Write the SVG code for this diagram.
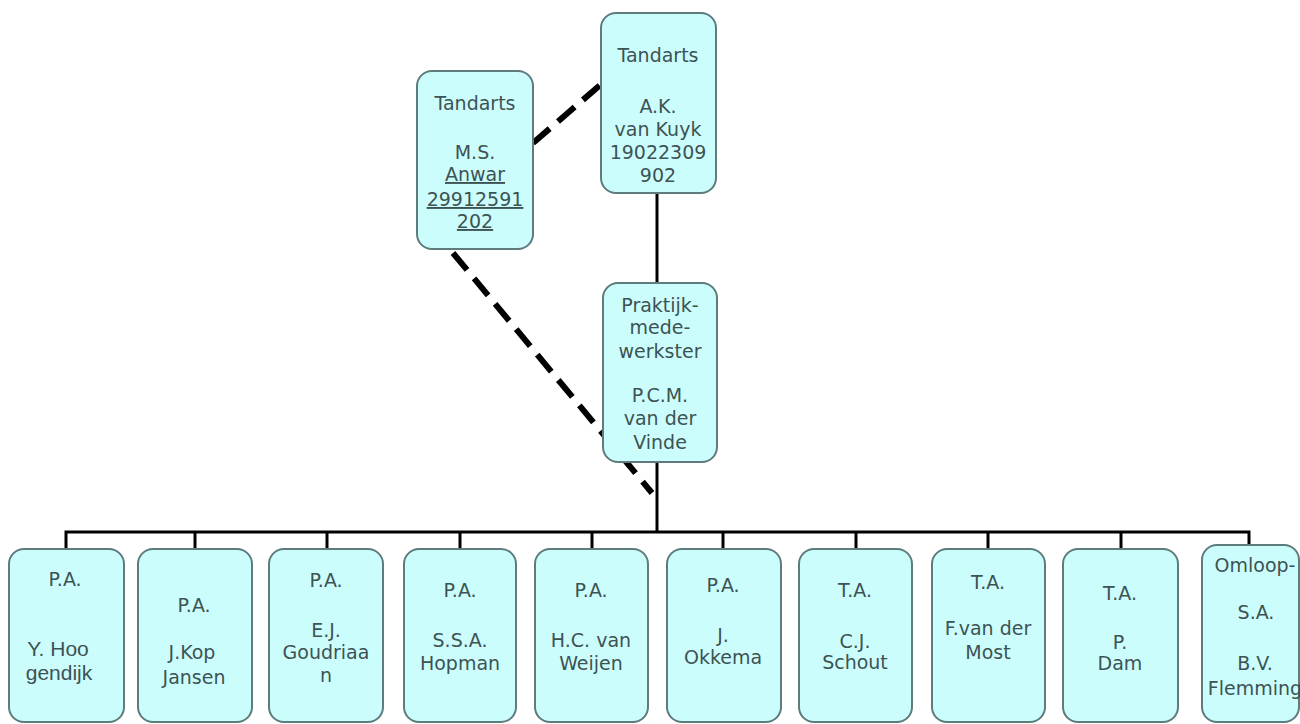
<svg xmlns="http://www.w3.org/2000/svg" width="1300" height="724" viewBox="0 0 1300 724">
<style>
.box{fill:#ccfdfd;stroke:#5e7c7c;stroke-width:2}
.t{font-family:"DejaVu Sans",Verdana,sans-serif;font-size:19px;fill:#3d5353;text-anchor:middle}
.a{font-family:"Liberation Sans",Arial,sans-serif;font-size:21px;fill:#3d5353;text-anchor:middle}
.u{text-decoration:underline}
.ln{stroke:#000;stroke-width:3;fill:none}
.dash{stroke:#000;stroke-width:6;fill:none;stroke-dasharray:22 11}
</style>
<rect width="1300" height="724" fill="#fff"/>
<g id="connectors">
<line class="dash" x1="533" y1="143" x2="606" y2="80"/>
<line class="dash" x1="453" y1="253" x2="652" y2="493"/>
<line class="ln" x1="657" y1="193" x2="657" y2="283"/>
<line class="ln" x1="657" y1="462" x2="657" y2="532"/>
<polyline class="ln" points="66,549 66,532 1249,532 1249,545"/>
<line class="ln" x1="195" y1="532" x2="195" y2="549"/>
<line class="ln" x1="327" y1="532" x2="327" y2="549"/>
<line class="ln" x1="460" y1="532" x2="460" y2="549"/>
<line class="ln" x1="592" y1="532" x2="592" y2="549"/>
<line class="ln" x1="723" y1="532" x2="723" y2="549"/>
<line class="ln" x1="856" y1="532" x2="856" y2="549"/>
<line class="ln" x1="988" y1="532" x2="988" y2="549"/>
<line class="ln" x1="1121" y1="532" x2="1121" y2="549"/>
</g>
<g id="node-anwar">
<rect class="box" x="417" y="71" width="116" height="178" rx="15"/>
<text class="t" x="475" y="110">Tandarts</text>
<text class="t" x="475" y="159">M.S.</text>
<text class="t u" x="475" y="181">Anwar</text>
<text class="t u" x="475" y="206">29912591</text>
<text class="t u" x="475" y="228">202</text>
</g>
<g id="node-kuyk">
<rect class="box" x="601" y="13" width="115" height="180" rx="15"/>
<text class="t" x="658" y="62">Tandarts</text>
<text class="t" x="658" y="113">A.K.</text>
<text class="t" x="658" y="136">van Kuyk</text>
<text class="t" x="658" y="159">19022309</text>
<text class="t" x="658" y="182">902</text>
</g>
<g id="node-vinde">
<rect class="box" x="603" y="283" width="114" height="179" rx="15"/>
<text class="t" x="660" y="312">Praktijk-</text>
<text class="t" x="660" y="334">mede-</text>
<text class="t" x="660" y="358">werkster</text>
<text class="t" x="660" y="402">P.C.M.</text>
<text class="t" x="660" y="425">van der</text>
<text class="t" x="660" y="449">Vinde</text>
</g>
<g id="node-hoogendijk">
<rect class="box" x="9" y="549" width="115" height="173" rx="15"/>
<text class="t" x="65" y="586">P.A.</text>
<text class="a" x="58" y="656">Y. Hoo</text>
<text class="a" x="59" y="680">gendijk</text>
</g>
<g id="node-kopjansen">
<rect class="box" x="138" y="549" width="114" height="173" rx="15"/>
<text class="t" x="194" y="612">P.A.</text>
<text class="t" x="192" y="659">J.Kop</text>
<text class="t" x="194" y="684">Jansen</text>
</g>
<g id="node-goudriaan">
<rect class="box" x="269" y="549" width="114" height="173" rx="15"/>
<text class="t" x="326" y="587">P.A.</text>
<text class="t" x="326" y="637">E.J.</text>
<text class="t" x="326" y="659">Goudriaa</text>
<text class="t" x="326" y="682">n</text>
</g>
<g id="node-hopman">
<rect class="box" x="404" y="549" width="112" height="173" rx="15"/>
<text class="t" x="460" y="597">P.A.</text>
<text class="t" x="460" y="647">S.S.A.</text>
<text class="t" x="460" y="670">Hopman</text>
</g>
<g id="node-weijen">
<rect class="box" x="535" y="549" width="113" height="173" rx="15"/>
<text class="t" x="591" y="597">P.A.</text>
<text class="t" x="591" y="647">H.C. van</text>
<text class="t" x="591" y="670">Weijen</text>
</g>
<g id="node-okkema">
<rect class="box" x="667" y="549" width="114" height="173" rx="15"/>
<text class="t" x="723" y="592">P.A.</text>
<text class="t" x="723" y="642">J.</text>
<text class="t" x="723" y="664">Okkema</text>
</g>
<g id="node-schout">
<rect class="box" x="799" y="549" width="113" height="173" rx="15"/>
<text class="t" x="855" y="597">T.A.</text>
<text class="t" x="855" y="648">C.J.</text>
<text class="t" x="855" y="669">Schout</text>
</g>
<g id="node-most">
<rect class="box" x="932" y="549" width="113" height="173" rx="15"/>
<text class="t" x="988" y="589">T.A.</text>
<text class="t" x="988" y="635">F.van der</text>
<text class="t" x="988" y="659">Most</text>
</g>
<g id="node-dam">
<rect class="box" x="1063" y="549" width="115" height="173" rx="15"/>
<text class="t" x="1120" y="600">T.A.</text>
<text class="t" x="1120" y="649">P.</text>
<text class="t" x="1120" y="670">Dam</text>
</g>
<g id="node-flemming">
<rect class="box" x="1202" y="545" width="97" height="177" rx="15"/>
<text class="t" x="1255" y="572">Omloop-</text>
<text class="t" x="1256" y="619">S.A.</text>
<text class="t" x="1255" y="670">B.V.</text>
<text class="t" x="1255" y="695">Flemming</text>
</g>
</svg>
